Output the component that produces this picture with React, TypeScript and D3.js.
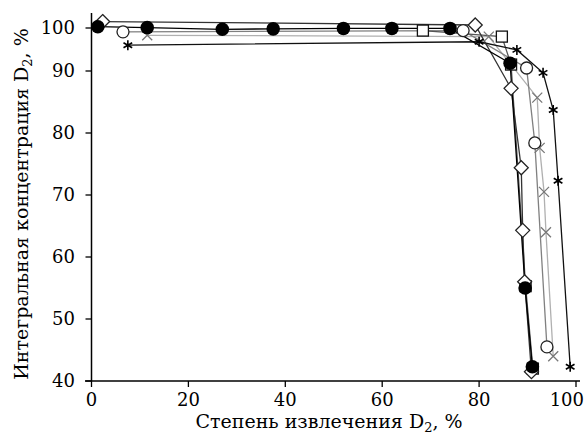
import React from "react";
import * as d3 from "d3";

const xTicks = [0, 20, 40, 60, 80, 100];
const yTicks = [40, 50, 60, 70, 80, 90, 100];

const filledX = [1.3, 11.5, 27, 37.5, 52, 62, 74, 86.4, 89.5, 91.0];
const filledY = [100.3, 100.1, 99.7, 99.8, 99.9, 99.9, 99.9, 91.8, 55.0, 42.3];

const diamondX = [2.3, 79.2, 86.6, 88.7, 89.0, 89.4, 90.8];
const diamondY = [101.5, 100.7, 87.2, 74.4, 64.3, 56.0, 41.5];

const circleX = [6.5, 76.7, 89.8, 91.5, 94.0];
const circleY = [99.1, 99.4, 90.7, 78.4, 45.5];

const squareX = [68.4, 84.7, 86.6, 89.6, 91.1];
const squareY = [99.4, 98.0, 91.5, 55.3, 42.0];

const crossX = [11.5, 82.0, 92.0, 92.5, 93.4, 93.8, 95.3];
const crossY = [98.3, 98.0, 85.7, 77.6, 70.5, 64.0, 44.0];

const starX = [7.5, 80.0, 87.8, 93.2, 95.3, 96.3, 98.8];
const starY = [96.0, 96.8, 94.9, 89.7, 83.7, 72.3, 42.3];

const W = 585;
const H = 435;

export default function App() {
  const x = d3.scaleLinear().domain([0, 100]).range([91.5, 576]);
  const y = d3.scaleLinear().domain([40, 90, 100]).range([381, 71, 28]);
  const line = d3
    .line<[number, number]>()
    .x((d) => x(d[0]))
    .y((d) => y(d[1]));
  const pts = (xs: number[], ys: number[]) =>
    xs.map((v, i) => [v, ys[i]] as [number, number]);

  const fontStyle = { fontFamily: "'DejaVu Serif', 'Liberation Serif', 'Times New Roman', serif" };

  const seriesLines = [
    { p: pts(crossX, crossY), c: "#b0b0b0" },
    { p: pts(circleX, circleY), c: "#808080" },
    { p: pts(squareX, squareY), c: "#555" },
    { p: pts(starX, starY), c: "#111" },
    { p: pts(diamondX, diamondY), c: "#333" },
    { p: pts(filledX, filledY), c: "#000" },
  ];

  const starPath = (cx: number, cy: number, r: number) => {
    let d = "";
    for (let k = 0; k < 3; k++) {
      const a = (Math.PI / 3) * k + Math.PI / 2;
      d += `M${cx + r * Math.cos(a)},${cy + r * Math.sin(a)}L${cx - r * Math.cos(a)},${cy - r * Math.sin(a)}`;
    }
    return d;
  };

  return (
    <svg width={W} height={H} style={{ display: "block", position: "absolute", left: 0, top: 0, background: "#fff" }}>
      <rect x={0} y={0} width={W} height={H} fill="#fff" />
      <line x1={x(0)} x2={x(0)} y1={13} y2={y(40)} stroke="#000" strokeWidth={1.5} />
      <line x1={85} x2={580} y1={y(40)} y2={y(40)} stroke="#000" strokeWidth={1.5} />
      {yTicks.map((t) => (
        <g key={"y" + t}>
          <line x1={x(0) - 6} x2={x(0)} y1={y(t)} y2={y(t)} stroke="#000" strokeWidth={1.3} />
          <text x={75} y={y(t)} dy="0.35em" textAnchor="end" style={fontStyle} fontSize={18} fill="#000">
            {t}
          </text>
        </g>
      ))}
      {xTicks.map((t, i) => (
        <g key={"x" + t}>
          <line x1={x(t)} x2={x(t)} y1={y(40)} y2={y(40) + 6} stroke="#000" strokeWidth={1.3} />
          <text
            x={i === xTicks.length - 1 ? 584 : x(t)}
            y={406}
            textAnchor={i === xTicks.length - 1 ? "end" : "middle"}
            style={fontStyle}
            fontSize={18}
            fill="#000"
          >
            {t}
          </text>
        </g>
      ))}
      <text x={329} y={428} textAnchor="middle" style={fontStyle} fontSize={19} fill="#000">
        Степень извлечения D<tspan dy="4" fontSize={13}>2</tspan><tspan dy="-4">, %</tspan>
      </text>
      <text
        transform={`translate(28,${204}) rotate(-90)`}
        textAnchor="middle"
        style={fontStyle}
        fontSize={19}
        fill="#000"
      >
        Интегральная концентрация D<tspan dy="4" fontSize={13}>2</tspan><tspan dy="-4">, %</tspan>
      </text>

      {seriesLines.map((s, i) => (
        <path key={"l" + i} d={line(s.p) || ""} fill="none" stroke={s.c} strokeWidth={1.3} />
      ))}

      {pts(starX, starY).map((d, i) => (
        <path key={"s" + i} d={starPath(x(d[0]), y(d[1]), 5)} stroke="#000" strokeWidth={1.6} />
      ))}
      {pts(crossX, crossY).map((d, i) => (
        <path
          key={"c" + i}
          d={`M${x(d[0]) - 5},${y(d[1]) - 5}L${x(d[0]) + 5},${y(d[1]) + 5}M${x(d[0]) - 5},${y(d[1]) + 5}L${x(d[0]) + 5},${y(d[1]) - 5}`}
          stroke="#777"
          strokeWidth={1.3}
        />
      ))}
      {pts(squareX, squareY).map((d, i) => (
        <rect
          key={"q" + i}
          x={x(d[0]) - 5.5}
          y={y(d[1]) - 5.5}
          width={11}
          height={11}
          fill="#fff"
          stroke="#111"
          strokeWidth={1.3}
        />
      ))}
      {pts(circleX, circleY).map((d, i) => (
        <circle key={"o" + i} cx={x(d[0])} cy={y(d[1])} r={6} fill="#fff" stroke="#222" strokeWidth={1.3} />
      ))}
      {pts(diamondX, diamondY).map((d, i) => (
        <path
          key={"d" + i}
          d={`M${x(d[0])},${y(d[1]) - 7}L${x(d[0]) + 7},${y(d[1])}L${x(d[0])},${y(d[1]) + 7}L${x(d[0]) - 7},${y(d[1])}Z`}
          fill="#fff"
          stroke="#222"
          strokeWidth={1.3}
        />
      ))}
      {pts(filledX, filledY).map((d, i) => (
        <circle key={"f" + i} cx={x(d[0])} cy={y(d[1])} r={6.8} fill="#000" />
      ))}
    </svg>
  );
}
